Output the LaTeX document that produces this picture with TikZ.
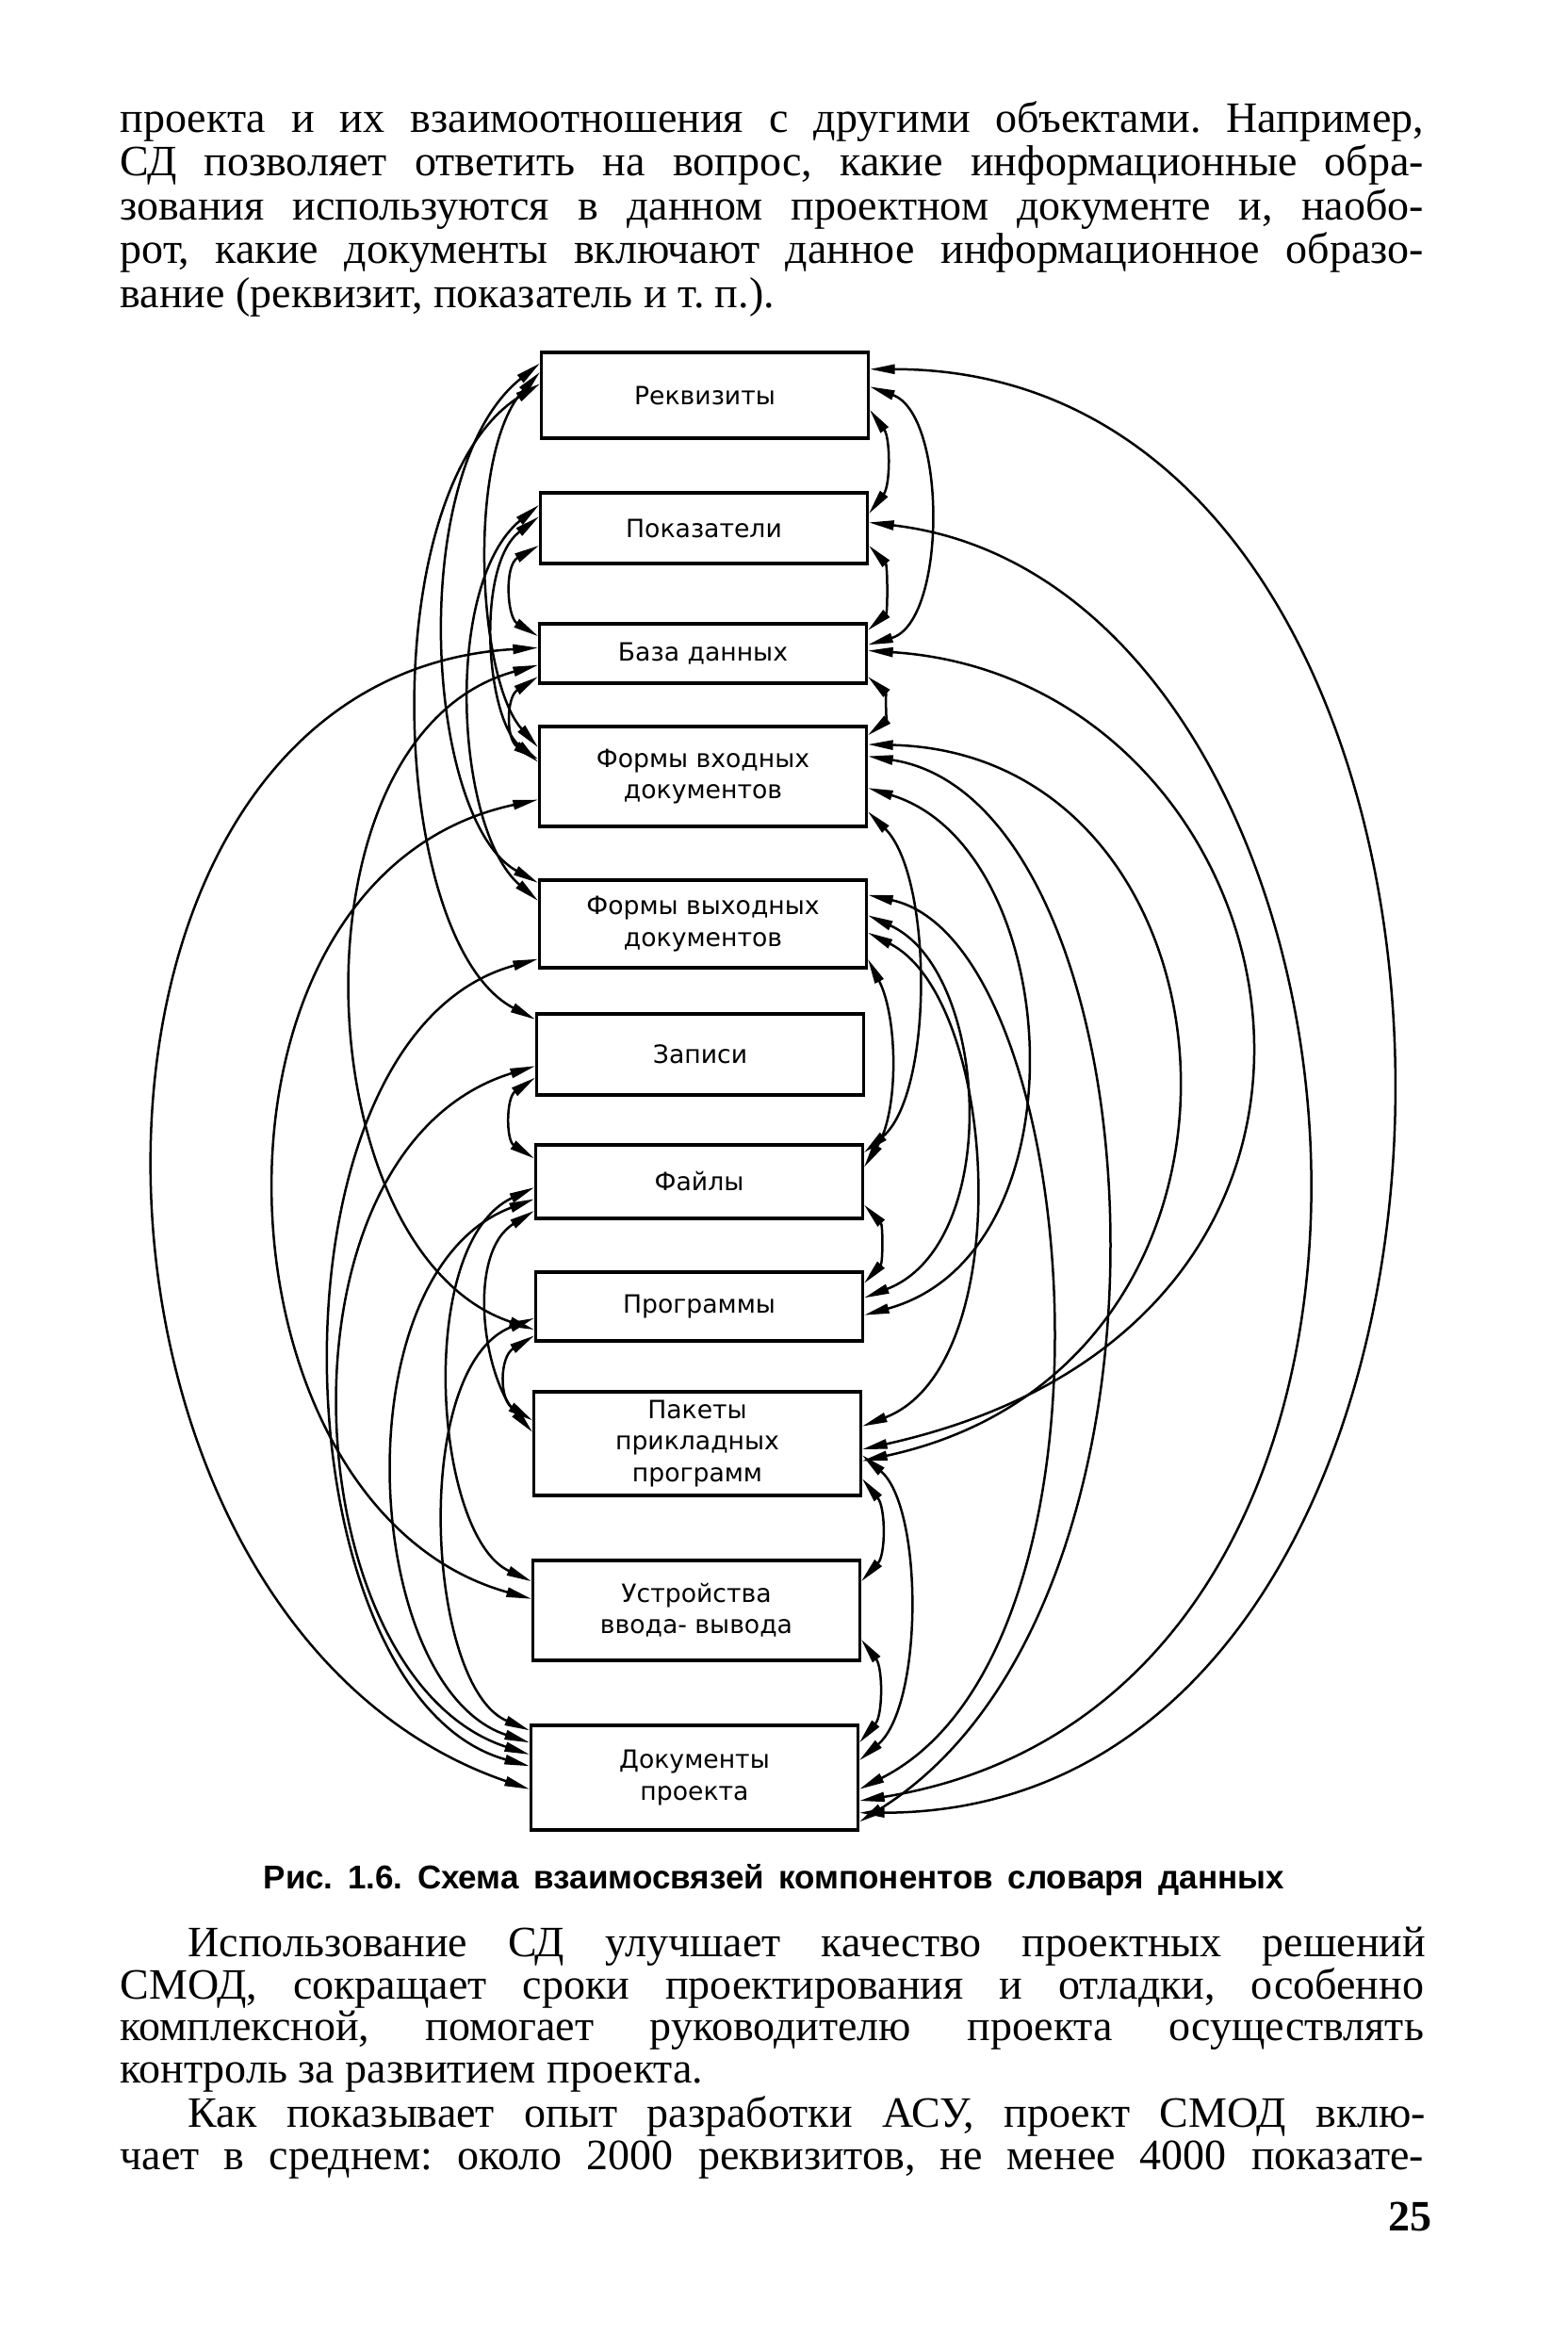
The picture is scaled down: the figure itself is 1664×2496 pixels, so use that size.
\documentclass[tikz,border=0pt]{standalone}
\usepackage{fontspec}
\setmainfont{Liberation Serif}
\newfontfamily\boxfont{DejaVu Sans}
\newfontfamily\capfont{Liberation Sans}
\usetikzlibrary{arrows.meta}
\frenchspacing

\begin{document}
\begin{tikzpicture}[
    x=0.3pt, y=-0.3pt,
    >={Triangle[length=8pt,width=3pt]},
    dictbox/.style={draw, line width=1pt, minimum width=104pt, inner sep=1pt, align=center, font=\boxfont\fontsize{8}{10}\selectfont},
    link/.style={<->, line width=0.75pt},
    bodyline/.style={anchor=base west, inner sep=0pt, font=\fontsize{13.8}{15}\selectfont}
]
\path[use as bounding box, fill=white] (0,0) rectangle (1664,2496);

% text above the figure
\node[bodyline] (p1) at (127,140) {\makebox[415pt][s]{проекта и их взаимоотношения с другими объектами. Например,}};
\node[bodyline] (p2) at (127,186) {\makebox[415pt][s]{СД позволяет ответить на вопрос, какие информационные обра-}};
\node[bodyline] (p3) at (127,233) {\makebox[415pt][s]{зования используются в данном проектном документе и, наобо-}};
\node[bodyline] (p4) at (127,279) {\makebox[415pt][s]{рот, какие документы включают данное информационное образо-}};
\node[bodyline] (p5) at (127,326) {вание (реквизит, показатель и т. п.).};

% components
\node[dictbox, minimum height=27.3pt] (rek)  at (748,419.5) {Реквизиты};
\node[dictbox, minimum height=22.5pt] (pok)  at (747,560.5) {Показатели};
\node[dictbox, minimum height=18.9pt] (baza) at (746,693.5) {База данных};
\node[dictbox, minimum height=31.8pt] (fvh)  at (746,824) {Формы входных\\документов};
\node[dictbox, minimum height=27.9pt] (fvyh) at (746,980.5) {Формы выходных\\документов};
\node[dictbox, minimum height=25.8pt] (zap)  at (743,1119) {Записи};
\node[dictbox, minimum height=23.4pt] (fajl) at (742,1254) {Файлы};
\node[dictbox, minimum height=21.9pt] (prog) at (742,1386.5) {Программы};
\node[dictbox, minimum height=33pt]   (pak)  at (740,1532) {Пакеты\\прикладных\\программ};
\node[dictbox, minimum height=31.8pt] (ustr) at (739,1709) {Устройства\\ввода- вывода};
\node[dictbox, minimum height=33.3pt] (dok)  at (737,1886.5) {Документы\\проекта};

% right side links
\draw[link] (rek.9) .. controls (1660,392) and (1660,1923) .. (dok.-12);
\draw[link] (rek.-5) .. controls (945,465) and (945,515) .. (pok.5);
\draw[link] (rek.3) .. controls (1005,440) and (1005,660) .. (baza.3);
\draw[link] (pok.-6) .. controls (942,600) and (942,650) .. (baza.8);
\draw[link] (pok.2) .. controls (1480,620) and (1600,1800) .. (dok.-8);
\draw[link] (baza.-8) .. controls (940,735) and (940,765) .. (fvh.14);
\draw[link] (baza.1) .. controls (1380,720) and (1535,1400) .. (pak.-2);
\draw[link] (fvh.11) .. controls (1330,800) and (1382,1450) .. (pak.-6);
\draw[link] (fvh.7) .. controls (1230,850) and (1285,1700) .. (dok.-15);
\draw[link] (fvh.-12) .. controls (990,930) and (991,1160) .. (fajl.10);
\draw[link] (fvh.-4) .. controls (1130,900) and (1155,1330) .. (prog.-3);
\draw[link] (fvyh.10) .. controls (1150,1000) and (1207,1750) .. (dok.-4);
\draw[link] (fvyh.3) .. controls (1050,1030) and (1065,1320) .. (prog.3);
\draw[link] (fvyh.-3) .. controls (1060,1060) and (1081,1450) .. (pak.6);
\draw[link] (fvyh.-12) .. controls (953,1080) and (954,1180) .. (fajl.5);
\draw[link] (fajl.-8) .. controls (937,1300) and (937,1340) .. (prog.8);
\draw[link] (pak.-4) .. controls (980,1600) and (980,1810) .. (dok.6);
\draw[link] (pak.-12) .. controls (940,1600) and (940,1650) .. (ustr.10);
\draw[link] (ustr.-10) .. controls (937,1770) and (937,1820) .. (dok.12);

% left side links
\draw[link] (rek.172) .. controls (495,480) and (506,720) .. (fvh.170);
\draw[link] (rek.169) .. controls (430,500) and (451,870) .. (fvyh.166);
\draw[link] (rek.176) .. controls (395,520) and (412,1000) .. (zap.168);
\draw[link] (pok.186) .. controls (535,600) and (538,655) .. (baza.174);
\draw[link] (pok.176) .. controls (505,600) and (515,760) .. (fvh.175);
\draw[link] (pok.172) .. controls (470,620) and (483,880) .. (fvyh.172);
\draw[link] (baza.188) .. controls (537,740) and (537,785) .. (fvh.174);
\draw[link] (baza.178) .. controls (25,720) and (40,1720) .. (dok.184);
\draw[link] (baza.184) .. controls (300,780) and (323,1330) .. (prog.188);
\draw[link] (fvh.188) .. controls (190,930) and (217,1600) .. (ustr.176);
\draw[link] (fvyh.192) .. controls (270,1100) and (294,1800) .. (dok.176);
\draw[link] (zap.188) .. controls (537,1165) and (537,1210) .. (fajl.172);
\draw[link] (zap.184) .. controls (280,1220) and (311,1780) .. (dok.172);
\draw[link] (fajl.186) .. controls (360,1350) and (383,1790) .. (dok.168);
\draw[link] (fajl.182) .. controls (440,1320) and (460,1630) .. (ustr.170);
\draw[link] (fajl.190) .. controls (495,1330) and (512,1460) .. (pak.176);
\draw[link] (prog.184) .. controls (435,1450) and (452,1790) .. (dok.164);
\draw[link] (prog.190) .. controls (530,1440) and (530,1485) .. (pak.172);

% caption
\node[anchor=base west, inner sep=0pt, font=\capfont\bfseries\fontsize{10.5}{12}\selectfont] (cap) at (279,2004)
    {\makebox[325pt][s]{Рис. 1.6. Схема взаимосвязей компонентов словаря данных}};

% text below the figure
\node[bodyline] (q1) at (199,2076) {\makebox[394pt][s]{Использование СД улучшает качество проектных решений}};
\node[bodyline] (q2) at (127,2121) {\makebox[415pt][s]{СМОД, сокращает сроки проектирования и отладки, особенно}};
\node[bodyline] (q3) at (127,2165) {\makebox[415pt][s]{комплексной, помогает руководителю проекта осуществлять}};
\node[bodyline] (q4) at (127,2210) {контроль за развитием проекта.};
\node[bodyline] (q5) at (199,2257) {\makebox[394pt][s]{Как показывает опыт разработки АСУ, проект СМОД вклю-}};
\node[bodyline] (q6) at (127,2302) {\makebox[415pt][s]{чает в среднем: около 2000 реквизитов, не менее 4000 показате-}};
\node[anchor=base east, inner sep=0pt, font=\bfseries\fontsize{13.8}{15}\selectfont] (pnum) at (1520,2367) {25};

\end{tikzpicture}
\end{document}
